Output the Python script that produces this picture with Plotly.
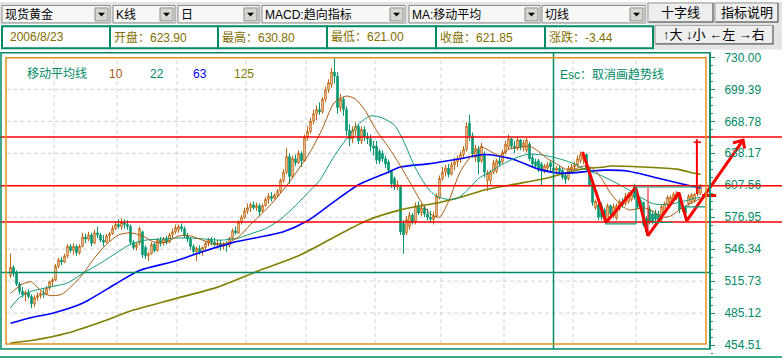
import plotly.graph_objects as go

# ---------------------------------------------------------------- data
price_ticks = [730.00, 699.39, 668.78, 638.17, 607.56, 576.95, 546.34, 515.73, 485.12, 454.51]
tick_labels = ["730.00", "699.39", "668.78", "638.17", "607.56", "576.95", "546.34", "515.73", "485.12", "454.51"]
month_starts = [15, 36, 56, 79, 99, 122, 144, 165, 188, 209]   # first bar of each month

open_ = [521, 529, 524, 513, 506, 503, 505, 501, 494, 500,
         502, 504, 503, 509, 515, 517, 530, 536, 534, 540,
         549, 545, 549, 543, 549, 558, 556, 560, 552, 562,
         560, 555, 553, 559, 561, 566, 570, 568, 572, 570,
         568, 553, 548, 552, 563, 548, 540, 542, 551, 545,
         555, 552, 556, 553, 560, 563, 565, 568, 566, 559,
         556, 549, 544, 547, 544, 548, 552, 555, 553, 551,
         552, 549, 551, 550, 557, 564, 562, 572, 577, 583,
         586, 589, 586, 588, 583, 588, 594, 597, 595, 598,
         602, 612, 620, 635, 616, 633, 629, 638, 631, 654,
         659, 669, 676, 680, 678, 690, 699, 704, 716, 712,
         682, 690, 680, 660, 652, 660, 664, 650, 661, 654,
         652, 645, 645, 640, 638, 633, 630, 621, 614, 606,
         606, 571, 562, 568, 579, 573, 588, 581, 586, 580,
         577, 575, 578, 596, 614, 620, 624, 618, 627, 630,
         633, 637, 642, 667, 655, 634, 642, 631, 637, 612,
         612, 620, 621, 631, 630, 639, 644, 652, 645, 643,
         651, 644, 641, 647, 634, 630, 631, 628, 621, 624,
         629, 623.90, 622, 624, 622, 617, 614, 623, 625, 627,
         631, 632, 637, 623, 609, 586, 589, 588, 584, 575,
         588, 578, 576, 585, 592, 590, 592, 594, 607, 597,
         593, 591, 576, 585, 580, 581, 580, 575, 582, 590,
         591, 594, 595, 597, 585, 586, 590, 592, 593, 599,
         600]
high = [542, 531, 526, 515, 510, 507, 508, 503, 502, 505,
        506, 508, 511, 516, 519, 532, 538, 539, 542, 551,
        551, 552, 551, 551, 562, 561, 563, 562, 565, 568,
        562, 560, 561, 563, 569, 573, 575, 576, 575, 574,
        570, 555, 553, 568, 564, 550, 544, 553, 553, 557,
        558, 558, 559, 562, 566, 570, 570, 571, 568, 562,
        558, 551, 549, 550, 549, 554, 557, 558, 557, 555,
        555, 553, 554, 558, 566, 568, 574, 579, 586, 590,
        591, 592, 591, 590, 590, 596, 600, 601, 600, 604,
        614, 623, 643, 638, 636, 637, 641, 640, 656, 664,
        672, 680, 684, 687, 692, 702, 709, 720, 730, 716,
        695, 692, 683, 666, 664, 668, 666, 664, 664, 658,
        656, 650, 650, 642, 641, 636, 632, 622, 616, 612,
        608, 574, 578, 582, 581, 591, 592, 590, 589, 585,
        583, 582, 600, 617, 625, 627, 628, 630, 634, 636,
        640, 645, 668, 675, 658, 646, 645, 648, 640, 622,
        622, 632, 633, 635, 642, 650, 656, 653, 650, 654,
        652, 651, 653, 649, 637, 633, 633, 630, 628, 630,
        631, 630.80, 626, 627, 624, 619, 626, 628, 630, 636,
        640, 639, 638, 624, 611, 594, 592, 591, 586, 590,
        589, 590, 590, 594, 595, 600, 601, 602, 609, 599,
        595, 592, 578, 588, 583, 584, 583, 589, 592, 598,
        598, 601, 602, 599, 590, 588, 599, 600, 600, 608,
        609]
low = [519, 520, 511, 503, 500, 496, 499, 490, 491, 497,
       499, 500, 502, 507, 511, 516, 528, 531, 533, 538,
       543, 541, 540, 541, 548, 552, 554, 549, 551, 557,
       553, 549, 552, 554, 560, 565, 566, 565, 566, 565,
       551, 546, 545, 550, 538, 537, 535, 541, 543, 544,
       549, 550, 551, 552, 557, 561, 562, 563, 557, 553,
       546, 541, 535, 541, 540, 546, 549, 550, 549, 547,
       545, 546, 544, 548, 555, 560, 561, 570, 575, 580,
       582, 584, 583, 578, 581, 587, 590, 592, 594, 596,
       600, 610, 618, 609, 614, 626, 628, 625, 630, 650,
       657, 666, 670, 675, 676, 687, 696, 701, 705, 676,
       678, 674, 655, 645, 648, 655, 647, 647, 650, 647,
       640, 636, 628, 628, 630, 624, 619, 605, 603, 603,
       560, 542, 560, 565, 570, 570, 579, 578, 577, 574,
       572, 570, 577, 594, 612, 616, 615, 617, 622, 625,
       629, 633, 640, 650, 634, 630, 618, 629, 615, 602,
       608, 618, 619, 626, 628, 637, 642, 643, 638, 641,
       641, 640, 639, 631, 626, 624, 620, 607, 619, 620,
       620, 621.00, 618, 619, 613, 609, 612, 621, 622, 625,
       629, 628, 622, 606, 588, 584, 574, 574, 573, 573,
       577, 576, 574, 583, 586, 588, 590, 592, 594, 585,
       584, 568, 559, 570, 570, 572, 571, 573, 580, 588,
       589, 592, 593, 581, 582, 578, 588, 590, 591, 597,
       598]
close = [529, 523, 513, 506, 503, 505, 501, 494, 500, 502,
         504, 503, 509, 515, 517, 530, 536, 534, 540, 549,
         545, 549, 543, 549, 558, 556, 560, 552, 562, 560,
         555, 553, 559, 561, 566, 570, 568, 572, 570, 568,
         553, 548, 551, 566, 541, 540, 542, 551, 545, 555,
         552, 556, 553, 560, 563, 567, 568, 566, 559, 556,
         549, 544, 547, 544, 548, 552, 555, 553, 551, 552,
         549, 551, 550, 557, 564, 562, 572, 577, 583, 586,
         589, 586, 588, 582, 588, 594, 597, 595, 598, 602,
         612, 620, 635, 616, 633, 629, 638, 631, 653, 659,
         669, 676, 680, 678, 690, 699, 706, 716, 712, 682,
         690, 680, 660, 652, 660, 664, 650, 661, 654, 652,
         645, 643, 632, 631, 633, 628, 622, 609, 606, 608,
         563, 560, 575, 579, 572, 588, 581, 586, 580, 577,
         575, 578, 597, 614, 620, 624, 618, 627, 630, 633,
         637, 642, 664, 655, 638, 643, 630, 645, 620, 619,
         620, 629, 631, 628, 639, 647, 652, 645, 643, 651,
         644, 648, 651, 633, 628, 626, 622, 621, 626, 627,
         625.29, 621.85, 624, 621, 615, 613, 624, 625, 627, 633,
         637, 636, 624, 608, 591, 592, 577, 577, 576, 588,
         580, 587, 588, 592, 589, 597, 599, 599, 596, 587,
         586, 570, 563, 573, 572, 575, 573, 587, 590, 596,
         596, 599, 600, 584, 587, 581, 597, 598, 599, 605,
         607]

ma_periods = ["10", "22", "63", "125"]
ma10_x = [0, 4, 7, 10, 13, 17, 20, 24, 28, 32, 36, 40, 44, 48, 52, 56, 60, 64, 68, 72,
          76, 80, 84, 88, 92, 96, 100, 104, 108, 112, 115, 118, 122, 126, 130, 134, 137, 140, 143, 146,
          150, 154, 157, 160, 163, 166, 170, 173, 176, 179, 182, 185, 188, 191, 194, 197, 200, 203, 206, 209,
          211, 214, 217, 220, 224, 228, 230]
ma10_y = [504, 513, 515, 507, 502, 503, 510, 522, 538, 551, 560, 562, 559, 553, 553, 559, 559, 555, 551, 552,
          558, 570, 581, 593, 607, 623, 640, 662, 687, 693, 690, 680, 660, 644, 626, 606, 591, 580, 577, 592,
          621, 637, 644, 640, 636, 642, 644, 645, 640, 633, 628, 623, 623, 626, 624, 614, 600, 590, 584, 585,
          586, 583, 577, 578, 586, 592, 595]
ma22_x = [0, 3, 7, 13, 19, 24, 30, 36, 40, 45, 50, 55, 60, 65, 70, 76, 80, 85, 90, 95,
          100, 103, 108, 112, 116, 120, 124, 128, 131, 135, 139, 142, 146, 149, 152, 156, 159, 163, 167, 172,
          176, 180, 184, 188, 192, 196, 201, 205, 209, 214, 219, 224, 228, 230]
ma22_y = [490, 500, 506, 510, 514, 523, 533, 544, 551, 555, 556, 557, 557, 556, 555, 557, 561, 566, 575, 588,
          603, 612, 636, 652, 666, 674, 672, 665, 650, 624, 605, 597, 594, 595, 602, 614, 619, 626, 632, 637,
          637, 635, 632, 628, 622, 618, 611, 605, 598, 590, 589, 592, 595, 596]
ma63_x = [0, 7, 14, 24, 35, 43, 55, 63, 74, 91, 99, 107, 116, 125, 130, 139, 150, 158, 167, 176,
          184, 193, 198, 206, 217, 225, 230]
ma63_y = [475.5, 481, 485, 494.5, 513, 526, 535, 543, 552.6, 563, 573.5, 590, 608, 619, 625, 628, 633, 637, 633, 623,
          619, 621, 622, 621, 613.5, 608, 605]
ma125_x = [0, 8, 19, 30, 41, 55, 69, 83, 96, 108, 119, 130, 143, 150, 158, 167, 179, 187, 193, 198,
           200, 211, 222, 228, 230]
ma125_y = [456.4, 459.3, 466, 476.4, 488, 499, 510, 526, 540, 558, 574, 584, 591, 596, 603, 608, 614.5, 621, 624, 625,
           626, 625, 623, 619, 618]

red_levels = [653.8, 607.2, 572.3]          # horizontal red lines
cross_bar = 181                              # crosshair bar (2006/8/23)
cross_price = 524.0
zig_x = [190.7, 198.5, 208.4, 212.5, 222.8, 225.4, 244.2]   # drawn trend zigzag
zig_y = [639.5, 571.9, 605.4, 559.3, 600.5, 573.5, 650.7]
arrow_wing_x = [240.8, 244.2, 244.7]
arrow_wing_y = [648.1, 650.7, 642.8]
box_segments = [  # drawn teal channel lines (bar0, price0, bar1, price1)
    (198.2, 570.6, 208.5, 570.6), (208.5, 570.6, 208.5, 605.9), (208.5, 605.9, 230.2, 605.9),
    (213.8, 571.9, 220.8, 571.9), (224.2, 586.9, 231.5, 586.9)]

combo_texts = ["现货黄金", "K线", "日", "MACD:趋向指标", "MA:移动平均", "切线"]
button_texts = ["十字线", "指标说明"]
nav_text = "↑大 ↓小 ←左 →右"
info_date = "2006/8/23"
info_change = -3.44

assert len(open_) == len(high) == len(low) == len(close) == 231

# ---------------------------------------------------------------- styles
W, H = 782, 358
TEAL = "#00966f"
TEXT_TEAL = "#008a66"
BROWN = "#c0640c"
MA10_C = "#a85a14"
MA22_C = "#109a78"
BLUE = "#0000ff"
OLIVE = "#808000"
RED = "#ff0000"
GREEN = "#008a66"
ORANGE = "#e0921e"
INFO_C = "#7f6e00"
FONT = "Liberation Sans, Noto Sans CJK SC, sans-serif"


def px(x):
    return x / W


def py(y):
    return 1 - y / H


def to_price(ypix):  # pixel row -> price (for frame elements only)
    return 730.0 - (ypix - 55.7) / 1.05013


def to_bar(xpix):
    return (xpix - 10.5) / 3.0


shapes = []
annotations = []


def prect(x0, y0, x1, y1, fill=None, line=None, lw=1, layer="above"):
    shapes.append(dict(type="rect", xref="paper", yref="paper", x0=px(x0), x1=px(x1),
                       y0=py(y1), y1=py(y0), fillcolor=fill or "rgba(0,0,0,0)",
                       line=dict(color=line or "rgba(0,0,0,0)", width=lw if line else 0), layer=layer))


def pline(x0, y0, x1, y1, color, lw=1, dash=None, layer="above"):
    shapes.append(dict(type="line", xref="paper", yref="paper", x0=px(x0), x1=px(x1),
                       y0=py(y0), y1=py(y1), line=dict(color=color, width=lw, dash=dash), layer=layer))


def ptext(x, y, text, color="#000000", size=12, anchor="left"):
    annotations.append(dict(xref="paper", yref="paper", x=px(x), y=py(y), text=text, showarrow=False,
                            xanchor=anchor, yanchor="middle", font=dict(family=FONT, size=size, color=color)))


# ---------------------------------------------------------------- toolbar (row 1)
prect(0, 0, 782, 22.5, fill="#e4e4e4", layer="below")
combo_px = [(2, 110), (113, 175), (178, 259), (262, 405), (409, 540), (542, 645)]
for (x0, x1), t in zip(combo_px, combo_texts):
    prect(x0, 3.5, x1, 21, fill="#f7f7f7", line="#8a8a8a")
    prect(x1 - 15, 6, x1 - 2, 19, fill="#d8d6d0", line="#8c8c8c")
    cx, cy = x1 - 8.5, 12.5
    shapes.append(dict(type="path", xref="paper", yref="paper",
                       path=f"M {px(cx-3.5)},{py(cy-1.8)} L {px(cx+3.5)},{py(cy-1.8)} L {px(cx)},{py(cy+2.2)} Z",
                       fillcolor="#000000", line=dict(width=0)))
    ptext(x0 + 1, 12.8, t, "#000000", 12)

for (x0, x1), t in zip([(648, 713), (715, 778)], button_texts):
    prect(x0, 1, x1, 20.5, fill="#eeeeee", line="#9a9a9a")
    pline(x0 + 1, 20, x1, 20, "#606060", 1)
    pline(x1, 1, x1, 20.5, "#606060", 1)
    ptext((x0 + x1) / 2, 11, t, "#000000", 13, "center")

# ---------------------------------------------------------------- info row (row 2)
prect(653, 22.5, 782, 48, fill="#e4e4e4", layer="below")
prect(655, 23.5, 773, 42.5, fill="#eeeeee", line="#9a9a9a")
pline(656, 42, 773, 42, "#606060", 1)
pline(773, 23.5, 773, 42.5, "#606060", 1)
ptext(714, 33, nav_text, "#000000", 13, "center")

info_texts = [info_date,
              f"开盘：{open_[cross_bar]:.2f}",
              f"最高：{high[cross_bar]:.2f}",
              f"最低：{low[cross_bar]:.2f}",
              f"收盘：{close[cross_bar]:.2f}",
              f"涨跌：{info_change:.2f}"]
info_px = [(2, 110), (110, 218), (218, 327), (327, 436), (436, 545), (545, 653)]
for i, ((x0, x1), t) in enumerate(zip(info_px, info_texts)):
    prect(x0, 24.5, x1, 46.5, fill="#ffffff", line=GREEN, lw=2)
    ptext(x0 + (6 if i == 0 else 2), 35.5, t, INFO_C, 12)

# ---------------------------------------------------------------- chart frame
xmin, xmax = to_bar(0), to_bar(782)
ymin, ymax = to_price(357), to_price(51)

# dashed grid (below data)
for v in price_ticks[1:-1]:
    shapes.append(dict(type="line", xref="x", yref="y", x0=to_bar(6), x1=to_bar(706), y0=v, y1=v,
                       line=dict(color="#d2d2d2", width=1, dash="4px,3px"), layer="below"))
for m in month_starts:
    shapes.append(dict(type="line", xref="x", yref="y", x0=m - 0.5, x1=m - 0.5,
                       y0=to_price(344), y1=to_price(56),
                       line=dict(color="#d2d2d2", width=1, dash="4px,3px"), layer="below"))

# red reference lines
for v in red_levels:
    shapes.append(dict(type="line", xref="paper", yref="y", x0=0, x1=1, y0=v, y1=v,
                       line=dict(color=RED, width=1.5), layer="above"))

# crosshair
shapes.append(dict(type="line", xref="x", yref="paper", x0=cross_bar, x1=cross_bar, y0=py(349), y1=py(51),
                   line=dict(color=GREEN, width=1.5), layer="above"))
shapes.append(dict(type="line", xref="paper", yref="y", x0=px(1), x1=px(710), y0=cross_price, y1=cross_price,
                   line=dict(color=GREEN, width=1.5), layer="above"))

# teal drawn channel lines
for b0, p0, b1, p1 in box_segments:
    shapes.append(dict(type="line", xref="x", yref="y", x0=b0, x1=b1, y0=p0, y1=p1,
                       line=dict(color=MA22_C, width=1.2), layer="above"))

# red drawn marks
shapes.append(dict(type="line", xref="x", yref="y", x0=212.5, x1=212.5, y0=605.0, y1=559.3,
                   line=dict(color=RED, width=1), layer="above"))
shapes.append(dict(type="line", xref="x", yref="y", x0=228.8, x1=228.8, y0=651.5, y1=599.3,
                   line=dict(color=RED, width=2), layer="above"))
shapes.append(dict(type="line", xref="x", yref="y", x0=227.7, x1=230.2, y0=648.8, y1=648.8,
                   line=dict(color=RED, width=1.5), layer="above"))
shapes.append(dict(type="line", xref="x", yref="y", x0=230.5, x1=235.2, y0=597.8, y1=597.8,
                   line=dict(color=RED, width=3), layer="above"))

# frame borders
prect(1, 51, 710, 349, line=GREEN, lw=1.5)
prect(6, 56, 706, 344, line=ORANGE, lw=1.5)
pline(0, 357, 782, 357, GREEN, 1.5)
pline(710, 51, 710, 349, GREEN, 1.5)

# legend texts
ptext(25, 72, "移动平均线", TEXT_TEAL, 12)
for x, t, c in zip([107, 148, 191, 232], ma_periods, [MA10_C, TEXT_TEAL, BLUE, OLIVE]):
    ptext(x, 72, t, c, 12)
ptext(558, 73, "Esc：取消画趋势线", TEXT_TEAL, 12)

# ---------------------------------------------------------------- traces
bars = list(range(len(close)))
fig = go.Figure()
fig.add_trace(go.Candlestick(
    x=bars, open=open_, high=high, low=low, close=close,
    increasing=dict(line=dict(color=BROWN, width=1), fillcolor="#ffffff"),
    decreasing=dict(line=dict(color=TEAL, width=1), fillcolor=TEAL),
    whiskerwidth=0, hoverinfo="skip", showlegend=False))

for xs, ys, c, w in [(ma125_x, ma125_y, OLIVE, 1.6), (ma63_x, ma63_y, BLUE, 1.6),
                     (ma22_x, ma22_y, MA22_C, 1), (ma10_x, ma10_y, MA10_C, 1)]:
    fig.add_trace(go.Scatter(x=xs, y=ys, mode="lines", hoverinfo="skip", showlegend=False,
                             line=dict(color=c, width=w, shape="spline", smoothing=0.7)))

fig.add_trace(go.Scatter(x=zig_x, y=zig_y, mode="lines", hoverinfo="skip", showlegend=False,
                         line=dict(color=RED, width=3)))
fig.add_trace(go.Scatter(x=arrow_wing_x, y=arrow_wing_y, mode="lines", hoverinfo="skip", showlegend=False,
                         line=dict(color=RED, width=3)))

fig.update_layout(
    width=W, height=H, margin=dict(l=0, r=0, t=0, b=0),
    paper_bgcolor="#ffffff", plot_bgcolor="rgba(0,0,0,0)",
    showlegend=False, shapes=shapes, annotations=annotations,
    font=dict(family=FONT),
    xaxis=dict(range=[xmin, xmax], domain=[0, 1], visible=False, fixedrange=True,
               rangeslider=dict(visible=False)),
    yaxis=dict(range=[ymin, ymax], domain=[py(357), py(51)], anchor="free", position=px(710),
               side="right", showgrid=False, zeroline=False, showline=False,
               tickmode="array", tickvals=price_ticks, ticktext=tick_labels,
               ticks="outside", ticklen=4, tickwidth=1, tickcolor=GREEN,
               ticklabelstandoff=7,
               tickfont=dict(family="Liberation Sans, Arial, sans-serif", size=12, color=TEXT_TEAL),
               minor=dict(tickmode="linear", tick0=454.51, dtick=30.61 / 4, ticks="outside",
                          ticklen=2, tickcolor=GREEN, showgrid=False),
               fixedrange=True),
)

fig.write_html("out.html", config={"displayModeBar": False, "staticPlot": True},
               post_script="document.body.style.margin='0';document.body.style.overflow='hidden';")
